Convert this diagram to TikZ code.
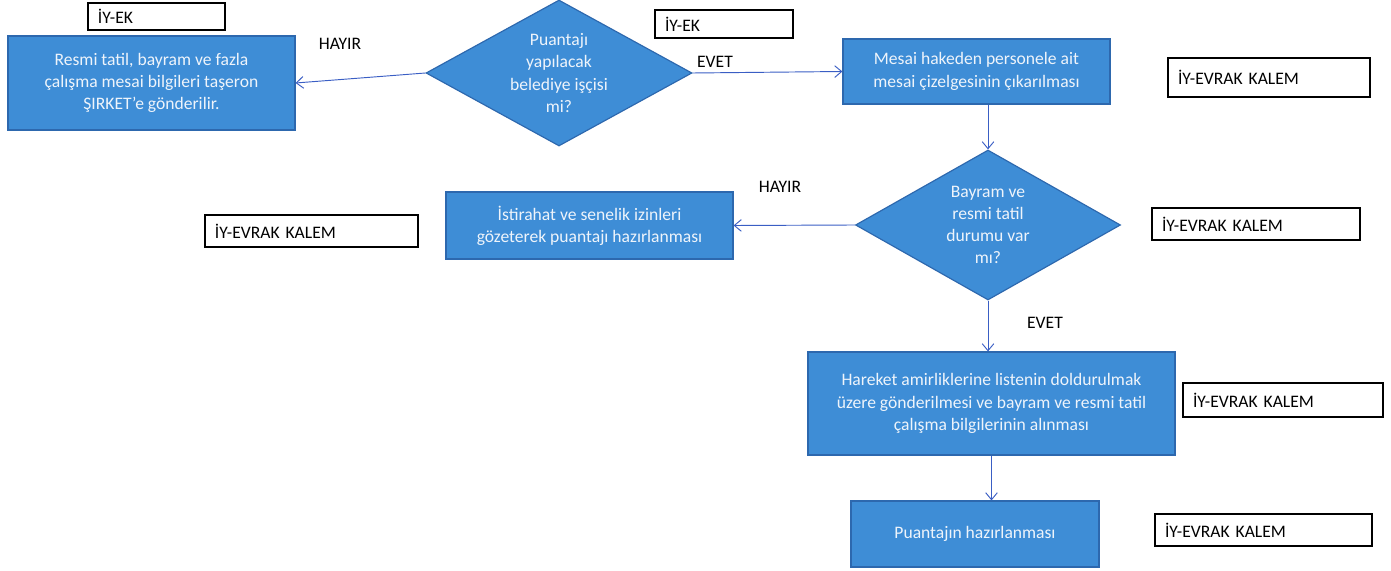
\documentclass[tikz,border=0pt]{standalone}
\usepackage{fontspec}
\setmainfont{Carlito}
\usepackage{tikz}
\usetikzlibrary{arrows, arrows.meta, shapes.geometric, calc}

\definecolor{boxblue}{HTML}{3E8DD6}
\definecolor{boxedge}{HTML}{2D68AE}
\definecolor{flowblue}{HTML}{3A5EC4}
\definecolor{boxtext}{HTML}{EEF4FB}

\tikzset{
  bluebox/.style n args={2}{draw=boxedge, line width=1pt, fill=boxblue, text=boxtext,
    align=center, minimum width=#1, minimum height=#2, inner sep=0pt},
  decision/.style n args={2}{diamond, draw=boxedge, line width=1pt, fill=boxblue, text=boxtext,
    align=center, minimum width=#1, minimum height=#2, inner sep=0pt, aspect=1.8},
  rolebox/.style n args={2}{draw=black, line width=1.3pt, fill=white, align=left,
    text width=#1, minimum height=#2, inner xsep=0.3cm, inner ysep=0pt},
  answer/.style={text=black},
  flow/.style={draw=flowblue, line width=0.8pt, -{Straight Barb[length=6pt,width=10pt]}}
}

\begin{document}
\begin{tikzpicture}[x=0.03cm, y=-0.03cm, font=\fontsize{15}{19}\selectfont]
    \useasboundingbox (0,0) rectangle (1391,571);

    % steps
    \node[bluebox={8.61cm}{2.82cm}] (sirket) at (151.5,83) {Resmi tatil, bayram ve fazla\\ çalışma mesai bilgileri taşeron\\ ŞIRKET'e gönderilir.};
    \node[decision={7.98cm}{4.38cm}] (isci) at (559,73) {Puantajı\\ yapılacak\\ belediye işçisi\\ mi?};
    \node[bluebox={8.01cm}{1.95cm}] (cizelge) at (976.5,71.5) {Mesai hakeden personele ait\\ mesai çizelgesinin çıkarılması};
    \node[decision={7.95cm}{4.5cm}] (bayram) at (988,225) {Bayram ve\\ resmi tatil\\ durumu var\\ mı?};
    \node[bluebox={8.61cm}{2.01cm}] (izin) at (589.5,225.5) {İstirahat ve senelik izinleri\\ gözeterek puantajı hazırlanması};
    \node[bluebox={11.01cm}{3.09cm}] (amirlik) at (991.5,403.5) {Hareket amirliklerine listenin doldurulmak\\ üzere gönderilmesi ve bayram ve resmi tatil\\ çalışma bilgilerinin alınması};
    \node[bluebox={7.44cm}{1.98cm}] (puantaj) at (975,534) {Puantajın hazırlanması};

    % sorumlular
    \node[rolebox={3.51cm}{0.81cm}] (rolA) at (156.5,16.5) {İY-EK};
    \node[rolebox={3.54cm}{0.84cm}] (rolB) at (724,24) {İY-EK};
    \node[rolebox={5.46cm}{1.17cm}] (rolC) at (1269,77.5) {İY-EVRAK KALEM};
    \node[rolebox={5.64cm}{0.96cm}] (rolD) at (1256,224) {İY-EVRAK KALEM};
    \node[rolebox={5.79cm}{0.96cm}] (rolE) at (311.5,231) {İY-EVRAK KALEM};
    \node[rolebox={5.4cm}{1.02cm}] (rolF) at (1283,400) {İY-EVRAK KALEM};
    \node[rolebox={5.91cm}{0.96cm}] (rolG) at (1263.5,530) {İY-EVRAK KALEM};

    % cevaplar
    \node[answer] (hayirA) at (340,44) {HAYIR};
    \node[answer] (evetA) at (715,62) {EVET};
    \node[answer] (hayirB) at (780,187) {HAYIR};
    \node[answer] (evetB) at (1045,323) {EVET};

    % oklar
    \draw[flow] (isci.west) -- (sirket.east);
    \draw[flow] (isci.east) -- (cizelge.west);
    \draw[flow] (cizelge.south -| bayram.north) -- (bayram.north);
    \draw[flow] (bayram.west) -- (izin.east);
    \draw[flow] (bayram.south) -- (bayram.south |- amirlik.north);
    \draw[flow] (amirlik.south) -- (amirlik.south |- puantaj.north);
\end{tikzpicture}
\end{document}
